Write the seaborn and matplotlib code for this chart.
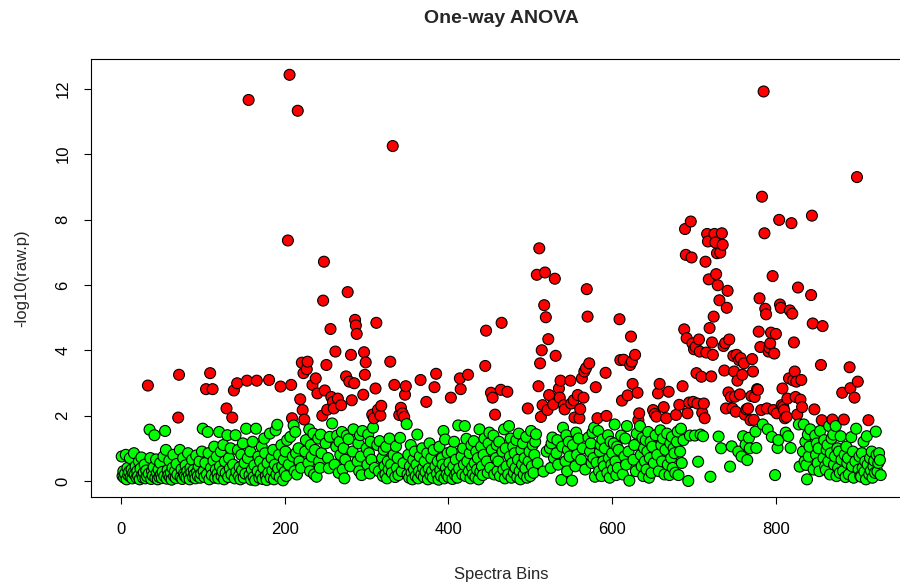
import numpy as np
import pandas as pd
import matplotlib
matplotlib.use("Agg")
from matplotlib import pyplot as plt
import seaborn as sns

# -log10(raw p) per spectral bin (bins 1..928)
neglogp_a = [
    0.75, 0.15, 0.3, 0.1, 0.22, 0.8, 0.05, 0.4, 0.18, 0.28,
    0.7, 0.12, 0.35, 0.08, 0.25, 0.85, 0.2, 0.45, 0.1, 0.3,
    0.15, 0.6, 0.05, 0.38, 0.72, 0.18, 0.1, 0.26, 0.5, 0.08,
    0.32, 0.14, 2.92, 0.22, 1.57, 0.7, 0.06, 0.3, 0.16, 0.42,
    1.4, 0.1, 0.66, 0.24, 0.05, 0.35, 0.12, 0.55, 0.2, 0.09,
    0.28, 0.75, 0.15, 1.53, 0.95, 0.07, 0.33, 0.18, 0.62, 0.11,
    0.25, 0.04, 0.4, 0.8, 0.14, 0.3, 0.09, 0.52, 0.2, 1.94,
    3.25, 0.95, 0.12, 0.36, 0.06, 0.7, 0.22, 0.15, 0.48, 0.1,
    0.3, 0.85, 0.18, 0.05, 0.4, 0.26, 0.65, 0.12, 0.34, 0.2,
    0.08, 0.78, 0.28, 0.15, 0.45, 0.6, 0.1, 0.22, 0.9, 1.6,
    0.3, 0.12, 0.55, 2.81, 0.2, 1.5, 0.85, 0.05, 3.30, 0.4,
    0.18, 2.81, 0.62, 1.05, 0.1, 0.35, 0.75, 0.22, 0.08, 1.5,
    0.45, 0.9, 0.15, 0.3, 1.1, 0.05, 0.6, 0.25, 2.22, 1.4,
    0.12, 0.7, 0.38, 1.0, 0.2, 1.94, 0.5, 2.77, 0.08, 1.4,
    0.28, 2.99, 0.95, 0.15, 0.42, 0.05, 0.8, 0.33, 1.15, 0.1,
    0.55, 0.22, 1.6, 3.07, 0.7, 11.66, 0.18, 0.9, 0.04, 0.35,
    1.2, 0.12, 0.48, 0.02, 1.6, 3.07, 0.3, 0.75, 0.1, 0.6,
    0.2, 1.05, 0.06, 0.4, 1.3, 0.85, 0.15, 0.03, 0.55, 0.25,
    3.09, 1.45, 0.1, 0.7, 0.32, 0.95, 0.05, 0.5, 1.55, 0.2,
    1.72, 0.38, 0.8, 0.12, 2.89, 1.1, 0.45, 0.02, 0.65, 0.28,
    0.9, 0.15, 1.25, 7.36, 0.5, 12.43, 1.35, 2.94, 1.92, 0.75,
    1.7, 0.3, 1.5, 0.85, 0.2, 11.33, 1.0, 0.6, 2.5, 0.4,
]
neglogp_b = [
    3.62, 2.17, 3.3, 1.88, 0.9, 1.25, 3.42, 3.65, 0.55, 1.58,
    0.3, 1.1, 0.75, 2.94, 1.45, 0.2, 0.95, 3.14, 0.13, 2.68,
    1.3, 0.6, 0.4, 1.42, 0.85, 2.0, 5.52, 6.71, 2.77, 1.15,
    3.55, 2.18, 0.7, 0.39, 1.35, 4.65, 2.57, 1.76, 2.42, 2.22,
    0.5, 3.96, 1.05, 1.39, 2.52, 0.25, 1.2, 0.8, 2.32, 1.5,
    0.35, 1.0, 0.08, 0.65, 3.2, 1.39, 5.78, 1.28, 3.04, 0.45,
    3.86, 2.47, 0.9, 1.58, 2.99, 4.93, 4.76, 4.5, 0.6, 1.15,
    0.3, 1.4, 0.75, 0.18, 1.53, 2.64, 3.94, 3.25, 3.63, 1.0,
    0.5, 1.42, 0.85, 0.23, 1.2, 0.65, 2.03, 1.63, 1.92, 0.4,
    2.83, 4.84, 1.1, 2.18, 0.3, 1.22, 2.0, 2.3, 0.7, 0.15,
    0.95, 0.45, 0.2, 1.05, 0.08, 0.6, 0.35, 1.3, 3.65, 0.5,
    0.25, 10.25, 0.8, 2.94, 0.12, 1.06, 0.4, 0.7, 0.18, 2.02,
    1.32, 2.24, 0.3, 2.07, 0.55, 1.96, 2.64, 2.9, 1.74, 0.2,
    0.8, 0.1, 0.45, 1.1, 0.25, 0.05, 0.65, 0.35, 0.9, 0.15,
    0.5, 1.42, 0.08, 0.3, 0.75, 3.09, 0.2, 1.0, 0.4, 0.12,
    0.6, 0.28, 2.42, 0.85, 0.05, 0.38, 1.15, 0.18, 0.7, 0.3,
    0.1, 0.95, 2.87, 0.45, 3.28, 0.22, 0.6, 0.04, 1.05, 0.33,
    0.15, 0.7, 0.5, 1.53, 0.08, 1.27, 0.4, 0.2, 0.85, 0.12,
    0.55, 0.3, 2.55, 0.9, 0.06, 0.45, 1.2, 0.18, 0.65, 0.25,
    0.1, 1.7, 0.38, 3.14, 2.81, 0.75, 0.2, 1.0, 0.5, 1.68,
    0.15, 1.29, 0.6, 3.25, 0.3, 0.85, 0.08, 1.1, 0.42, 0.2,
    1.22, 0.55, 0.12, 0.9, 0.35, 0.7, 0.05, 1.58, 0.28, 1.05,
    0.45, 0.18, 0.8, 1.3, 3.52, 4.6, 0.6, 0.25, 1.15, 1.48,
    0.4, 2.7, 0.95, 2.55, 1.39, 0.2, 2.03, 0.7, 1.1, 0.3,
]
neglogp_c = [
    0.6, 1.2, 0.15, 2.79, 4.84, 0.9, 0.35, 1.58, 0.08, 1.0,
    0.45, 2.73, 0.2, 1.68, 0.75, 1.3, 0.1, 0.55, 1.05, 0.25,
    0.85, 0.4, 1.25, 0.12, 0.65, 1.45, 0.3, 0.05, 0.95, 0.5,
    1.15, 0.2, 0.7, 0.38, 1.35, 0.1, 2.22, 0.6, 0.9, 0.15,
    1.53, 0.45, 1.1, 0.25, 0.8, 1.2, 1.43, 6.31, 0.55, 2.9,
    7.12, 3.6, 1.96, 4.0, 2.32, 0.29, 5.38, 6.38, 5.01, 0.9,
    2.17, 4.34, 2.63, 1.0, 0.4, 1.15, 1.33, 2.34, 0.7, 6.19,
    3.83, 0.85, 1.25, 0.5, 2.83, 2.55, 3.07, 0.03, 1.05, 1.63,
    2.32, 2.19, 0.6, 1.4, 0.3, 0.95, 1.2, 0.75, 3.07, 2.37,
    0.01, 1.1, 2.47, 1.94, 0.45, 1.48, 0.8, 2.63, 1.3, 1.92,
    2.2, 0.65, 3.14, 1.0, 2.55, 3.35, 0.35, 3.45, 5.87, 5.03,
    1.33, 3.6, 0.9, 1.15, 0.55, 1.48, 0.7, 1.63, 0.13, 2.87,
    0.56, 1.92, 1.53, 0.3, 0.9, 1.1, 0.15, 1.27, 0.6, 0.45,
    1.0, 3.31, 1.99, 0.25, 1.4, 0.7, 0.1, 1.2, 0.5, 0.85,
    0.35, 1.15, 1.73, 0.6, 0.18, 1.05, 0.4, 0.95, 4.95, 3.7,
    1.39, 2.46, 0.2, 3.71, 0.75, 1.3, 0.5, 1.68, 2.62, 0.9,
    0.01, 3.55, 4.42, 3.65, 2.97, 0.65, 1.1, 3.86, 0.3, 1.45,
    2.7, 1.86, 2.07, 1.68, 0.8, 0.45, 1.32, 0.15, 1.0, 0.6,
    1.25, 0.35, 0.9, 1.5, 0.1, 0.7, 1.2, 0.25, 1.05, 2.17,
    0.55, 2.05, 1.4, 1.97, 0.8, 2.68, 0.3, 2.97, 1.55, 1.1,
    0.6, 1.3, 2.26, 0.2, 0.95, 1.92, 1.45, 0.5, 2.73, 0.18,
    1.15, 0.7, 1.35, 0.4, 1.0, 0.85, 0.25, 2.02, 1.2, 1.51,
    0.18, 2.33, 0.9, 1.6, 0.55, 2.9, 1.25, 4.64, 7.71, 6.92,
    4.37, 2.07, 0.0, 2.4, 1.39, 7.94, 6.84, 4.21, 2.42, 4.03,
]
neglogp_d = [
    1.39, 4.1, 3.3, 2.37, 0.59, 4.33, 3.96, 1.42, 3.19, 2.09,
    1.37, 2.37, 1.92, 6.71, 3.93, 7.56, 7.33, 6.17, 4.68, 0.13,
    3.2, 4.24, 3.86, 5.03, 7.56, 7.3, 6.33, 6.97, 5.99, 1.36,
    5.53, 6.99, 1.0, 7.58, 7.23, 4.13, 3.38, 4.22, 2.22, 5.3,
    5.82, 2.71, 4.33, 0.44, 2.57, 1.06, 2.22, 3.83, 3.35, 2.58,
    2.12, 3.86, 3.07, 0.9, 3.7, 2.65, 3.76, 0.75, 3.25, 1.37,
    3.6, 2.03, 1.11, 2.19, 0.64, 2.22, 1.32, 1.0, 1.86, 2.6,
    3.73, 3.35, 1.87, 2.57, 1.51, 1.01, 2.81, 2.79, 4.57, 5.59,
    4.1, 2.17, 8.70, 1.73, 11.92, 7.58, 5.27, 5.1, 2.22, 1.58,
    3.96, 4.08, 4.21, 4.54, 1.35, 6.27, 2.17, 3.9, 0.18, 4.5,
    2.07, 1.01, 1.25, 7.99, 5.4, 5.3, 2.32, 2.83, 2.27, 2.17,
    1.92, 1.48, 1.96, 2.52, 1.37, 3.14, 5.22, 1.01, 7.89, 5.12,
    3.08, 4.24, 3.35, 2.57, 3.04, 2.03, 5.92, 1.73, 0.44, 2.49,
    3.09, 2.26, 0.9, 1.73, 0.6, 1.2, 0.49, 0.05, 1.42, 0.75,
    1.05, 1.58, 5.69, 8.12, 4.82, 0.35, 2.19, 1.39, 0.8, 1.15,
    0.55, 1.0, 0.3, 1.53, 3.55, 1.86, 4.74, 0.7, 1.25, 0.45,
    0.34, 0.95, 1.1, 0.6, 1.68, 0.2, 0.85, 1.3, 1.88, 1.42,
    0.5, 0.75, 1.68, 0.15, 1.0, 0.4, 0.9, 0.25, 1.37, 0.65,
    2.7, 0.3, 1.88, 0.8, 0.12, 1.05, 0.55, 0.7, 0.2, 3.48,
    2.84, 1.34, 0.45, 0.9, 0.1, 2.55, 0.6, 1.6, 9.3, 3.04,
    0.35, 0.75, 0.15, 0.13, 0.85, 0.4, 1.2, 0.28, 0.6, 0.05,
    1.37, 0.5, 1.86, 0.2, 0.7, 0.32, 0.9, 0.1, 0.45, 0.62,
    0.25, 1.51, 0.8, 0.29, 0.55, 0.85, 0.64, 0.18,
]

x_ticks = [0, 200, 400, 600, 800]
y_ticks = [0, 2, 4, 6, 8, 10, 12]
sig_cutoff = 1.8   # points above this are drawn red

neglogp = neglogp_a + neglogp_b + neglogp_c + neglogp_d
df = pd.DataFrame({"bin": np.arange(1, len(neglogp) + 1), "neglogp": neglogp})
df["sig"] = df["neglogp"] > sig_cutoff

sns.set_style("ticks")
plt.rcParams["font.family"] = ["Liberation Sans", "DejaVu Sans"]

fig = plt.figure(figsize=(9, 5.88), dpi=100)
# axes runs past the right edge, like the cropped reference
ax = fig.add_axes([0.1015, 0.1544, 0.9108, 0.746])

sns.scatterplot(data=df, x="bin", y="neglogp", hue="sig",
                palette={True: "#FF0000", False: "#00FF00"},
                edgecolor="black", linewidth=0.8, s=62,
                legend=False, ax=ax)

# R style 4% padding
n = len(neglogp)
ax.set_xlim(1 - 0.04 * (n - 1), n + 0.04 * (n - 1))
ymax = max(neglogp)
ax.set_ylim(-0.04 * ymax, ymax * 1.04)

ax.set_xticks(x_ticks)
ax.set_yticks(y_ticks)
ax.tick_params(axis="both", direction="out", length=5, width=0.8,
               labelsize=12, colors="black")
ax.tick_params(axis="x", pad=13)
ax.tick_params(axis="y", pad=10, labelrotation=90)
for lab in ax.get_yticklabels():
    lab.set_va("center")

for sp in ax.spines.values():
    sp.set_color("black")
    sp.set_linewidth(0.8)

ax.set_xlabel("Spectra Bins", fontsize=12)
ax.set_ylabel("-log10(raw.p)", fontsize=12)
ax.xaxis.label.set_va("center")
ax.yaxis.label.set_va("center")
ax.xaxis.set_label_coords(0.5, -0.1773)
ax.yaxis.set_label_coords(-0.0846, 0.5)

ax.text(0.5, 1.0912, "One-way ANOVA", transform=ax.transAxes,
        ha="center", va="center", fontsize=14, fontweight="bold")

plt.savefig("out.png", dpi=100)
plt.close()
